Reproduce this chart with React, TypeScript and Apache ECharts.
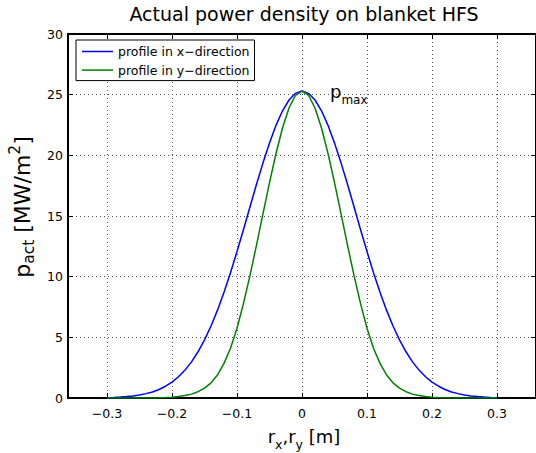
import React, { useEffect, useRef } from 'react';
import * as echarts from 'echarts';

const FONT = "'DejaVu Sans', 'Liberation Sans', sans-serif";

const titleText = 'Actual power density on blanket HFS';
const seriesNames = ['profile in x\u2212direction', 'profile in y\u2212direction'];

const xs = [
  -0.30, -0.29, -0.28, -0.27, -0.26, -0.25, -0.24, -0.23, -0.22, -0.21,
  -0.20, -0.19, -0.18, -0.17, -0.16, -0.15, -0.14, -0.13, -0.12, -0.11,
  -0.10, -0.09, -0.08, -0.07, -0.06, -0.05, -0.04, -0.03, -0.02, -0.01,
  0.00,
  0.01, 0.02, 0.03, 0.04, 0.05, 0.06, 0.07, 0.08, 0.09, 0.10,
  0.11, 0.12, 0.13, 0.14, 0.15, 0.16, 0.17, 0.18, 0.19, 0.20,
  0.21, 0.22, 0.23, 0.24, 0.25, 0.26, 0.27, 0.28, 0.29, 0.30,
];

const profileX = [
  0.03, 0.05, 0.08, 0.12, 0.17, 0.25, 0.36, 0.50, 0.70, 0.97,
  1.31, 1.75, 2.30, 2.98, 3.81, 4.79, 5.93, 7.24, 8.72, 10.33,
  12.07, 13.89, 15.76, 17.61, 19.38, 21.02, 22.47, 23.67, 24.56, 25.11,
  25.30,
  25.11, 24.56, 23.67, 22.47, 21.02, 19.38, 17.61, 15.76, 13.89, 12.07,
  10.33, 8.72, 7.24, 5.93, 4.79, 3.81, 2.98, 2.30, 1.75, 1.31,
  0.97, 0.70, 0.50, 0.36, 0.25, 0.17, 0.12, 0.08, 0.05, 0.03,
];

const profileY = [
  0.00, 0.00, 0.00, 0.00, 0.00, 0.00, 0.01, 0.01, 0.02, 0.04,
  0.07, 0.12, 0.20, 0.32, 0.52, 0.82, 1.25, 1.90, 2.85, 4.10,
  5.75, 7.80, 10.10, 12.60, 15.20, 17.75, 20.15, 22.25, 23.90, 24.95,
  25.30,
  24.95, 23.90, 22.25, 20.15, 17.75, 15.20, 12.60, 10.10, 7.80, 5.75,
  4.10, 2.85, 1.90, 1.25, 0.82, 0.52, 0.32, 0.20, 0.12, 0.07,
  0.04, 0.02, 0.01, 0.01, 0.00, 0.00, 0.00, 0.00, 0.00, 0.00,
];

const xMin = -0.36;
const xMax = 0.36;
const yMin = 0;
const yMax = 30;
const yStep = 5;

const fmtX = (v: number) => {
  const r = Math.round(v * 10) / 10;
  if (Math.abs(r) < 1e-9) return '0';
  return (r < 0 ? '\u2212' : '') + Math.abs(r).toFixed(1);
};

export default function App() {
  const ref = useRef<HTMLDivElement>(null);
  useEffect(() => {
    if (!ref.current) return;
    const chart = echarts.init(ref.current, null, { renderer: 'svg' });
    const axisCommon = {
      axisLine: { show: true, onZero: false, lineStyle: { color: '#000', width: 2 } },
      axisTick: { show: true, inside: true, length: 5, lineStyle: { color: '#000', width: 1 } },
    };
    const gridLine = { show: true, lineStyle: { color: '#555', width: 1, type: [1, 3] as any } };
    const mainRich = { fontSize: 18, fontFamily: FONT, fill: '#000', lineHeight: 30 };
    const subRich = { fontSize: 12.5, fontFamily: FONT, fill: '#000', lineHeight: 12, verticalAlign: 'bottom' };
    const supRich = { fontSize: 12.5, fontFamily: FONT, fill: '#000', lineHeight: 16, verticalAlign: 'top' };
    const option: any = {
      animation: false,
      backgroundColor: '#fff',
      grid: { left: 68, top: 34, right: -4, bottom: 55, containLabel: false },
      xAxis: [
        {
          type: 'value', min: xMin, max: xMax, splitNumber: 7, position: 'bottom',
          ...axisCommon,
          axisLabel: {
            show: true, showMinLabel: false, showMaxLabel: false, margin: 9,
            color: '#000', fontFamily: FONT, fontSize: 12.5, formatter: fmtX,
          },
          splitLine: gridLine,
        },
        {
          type: 'value', min: xMin, max: xMax, splitNumber: 7, position: 'top',
          ...axisCommon, axisLabel: { show: false }, splitLine: { show: false },
        },
      ],
      yAxis: [
        {
          type: 'value', min: yMin, max: yMax, interval: yStep, position: 'left',
          ...axisCommon,
          axisLabel: { show: true, margin: 5, color: '#000', fontFamily: FONT, fontSize: 12.5 },
          splitLine: gridLine,
        },
        {
          type: 'value', min: yMin, max: yMax, interval: yStep, position: 'right',
          ...axisCommon, axisLabel: { show: false }, splitLine: { show: false },
        },
      ],
      legend: {
        data: seriesNames,
        left: 76, top: 40, orient: 'vertical',
        icon: 'rect', itemWidth: 31, itemHeight: 1.5, itemGap: 3.6,
        padding: [4, 5, 3, 6],
        borderColor: '#000', borderWidth: 1, backgroundColor: '#fff',
        selectedMode: false,
        textStyle: { fontFamily: FONT, fontSize: 12.5, color: '#000', lineHeight: 15 },
      },
      series: [
        {
          name: seriesNames[0], type: 'line', showSymbol: false, symbol: 'none',
          data: xs.map((x, i) => [x, profileX[i]]),
          lineStyle: { color: '#0000ff', width: 1.5 }, itemStyle: { color: '#0000ff' },
        },
        {
          name: seriesNames[1], type: 'line', showSymbol: false, symbol: 'none',
          data: xs.map((x, i) => [x, profileY[i]]),
          lineStyle: { color: '#008000', width: 1.5 }, itemStyle: { color: '#008000' },
        },
      ],
      graphic: [
        {
          type: 'text', x: 304, y: 14.4, z: 100,
          style: { text: titleText, fill: '#000', fontSize: 19, fontFamily: FONT, align: 'center', verticalAlign: 'middle' },
        },
        {
          type: 'text', x: 304, y: 436.4, z: 100,
          style: {
            text: '{m|r}{s|x}{m|,r}{s|y}{m| [m]}',
            align: 'center', verticalAlign: 'middle',
            rich: { m: mainRich, s: subRich },
          },
        },
        {
          type: 'text', x: 22, y: 207, z: 100, rotation: Math.PI / 2,
          style: {
            text: '{m|p}{s|act}{m| [MW/m}{u|2}{m|]}',
            align: 'center', verticalAlign: 'middle',
            rich: {
              m: { ...mainRich, fontSize: 22 },
              s: { ...subRich, fontSize: 15.5, lineHeight: 13 },
              u: { ...supRich, fontSize: 15.5 },
            },
          },
        },
        {
          type: 'text', x: 330, y: 76, z: 100,
          style: {
            text: '{m|p}{s|max}',
            align: 'left', verticalAlign: 'top',
            rich: { m: mainRich, s: { ...subRich, fontSize: 12 } },
          },
        },
      ],
    };
    chart.setOption(option);
    return () => chart.dispose();
  }, []);
  return (
    <div
      ref={ref}
      style={{ position: 'fixed', left: 0, top: 0, width: 536, height: 453, background: '#fff' }}
    />
  );
}
